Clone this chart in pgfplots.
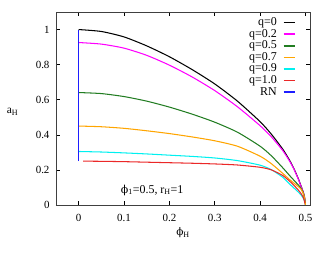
\documentclass[border=0pt]{standalone}
\usepackage{fontspec}
\setmainfont{Liberation Serif}
\newfontfamily\grk{DejaVu Serif}
\usepackage{pgfplots}
\pgfplotsset{compat=1.18}
\definecolor{cmag}{RGB}{255,0,255}
\definecolor{cgreen}{RGB}{34,125,34}
\definecolor{corange}{RGB}{255,165,0}
\definecolor{ccyan}{RGB}{0,240,240}
\definecolor{cred}{RGB}{235,40,40}
\definecolor{cblue}{RGB}{30,30,255}
\newcommand{\ph}{{\grk\fontsize{0.92em}{1em}\selectfont ϕ}}
\begin{document}
\begin{tikzpicture}
\useasboundingbox (-56bp,-49bp) rectangle (274bp,205bp);
\begin{axis}[
  scale only axis, width=254bp, height=193bp,
  xmin=-0.05, xmax=0.51, ymin=0, ymax=1.1,
  xtick={0,0.1,0.2,0.3,0.4,0.5},
  ytick={0,0.2,0.4,0.6,0.8,1},
  xticklabels={0,0.1,0.2,0.3,0.4,0.5},
  yticklabels={0,0.2,0.4,0.6,0.8,1},
  tick align=inside, major tick length=4bp,
  tick style={black, line width=0.5bp},
  axis line style={black!75, line width=0.6bp},
  every tick label/.append style={font=\fontsize{11}{13}\selectfont},
  yticklabel style={xshift=-3bp},
  xticklabel style={yshift=-6bp},
  xlabel={\ph\textsubscript{H}},
  ylabel={a\textsubscript{H}},
  label style={font=\fontsize{11.5}{13}\selectfont},
  xlabel style={at={(axis description cs:0.5,-0.145)}, anchor=center},
  ylabel style={at={(axis description cs:-0.171,0.482)}, anchor=center, rotate=-90},
  legend plot pos=right,
  legend cell align=right,
  legend style={draw=none, fill=none, at={(axis description cs:0.945,0.975)}, anchor=north east,
    inner sep=0pt, row sep=0.3bp, column sep=6bp,
    font=\fontsize{12}{13}\selectfont,
    nodes={inner sep=0pt, text height=8.5bp, text depth=2.8bp}},
  legend image code/.code={\draw[#1, line width=1.6bp] (0bp,0bp) -- (11.5bp,0bp);},
  every axis plot/.append style={line width=1.05bp, smooth, tension=0.4},
]
\addplot[black] coordinates {(0,1.000) (0.05,0.989) (0.1,0.958) (0.15,0.907) (0.2,0.845) (0.25,0.772) (0.3,0.690) (0.35,0.592) (0.4,0.475) (0.425,0.403) (0.45,0.318) (0.465,0.255) (0.475,0.205) (0.485,0.145) (0.49,0.110) (0.495,0.075) (0.498,0.045) (0.5,0.0)};
\addlegendentry{q=0}
\addplot[cmag] coordinates {(0,0.926) (0.05,0.917) (0.1,0.894) (0.15,0.853) (0.2,0.797) (0.25,0.730) (0.3,0.652) (0.35,0.560) (0.4,0.452) (0.425,0.388) (0.45,0.310) (0.465,0.250) (0.475,0.202) (0.485,0.143) (0.49,0.108) (0.495,0.073) (0.498,0.043) (0.5,0.0)};
\addlegendentry{q=0.2}
\addplot[cgreen] coordinates {(0,0.641) (0.05,0.635) (0.1,0.618) (0.15,0.592) (0.2,0.558) (0.25,0.518) (0.3,0.472) (0.35,0.415) (0.4,0.335) (0.425,0.280) (0.45,0.212) (0.465,0.168) (0.475,0.140) (0.485,0.112) (0.49,0.096) (0.495,0.070) (0.498,0.040) (0.5,0.0)};
\addlegendentry{q=0.5}
\addplot[corange] coordinates {(0,0.450) (0.05,0.446) (0.1,0.437) (0.15,0.423) (0.2,0.407) (0.25,0.388) (0.3,0.366) (0.35,0.335) (0.4,0.278) (0.425,0.235) (0.45,0.180) (0.465,0.145) (0.475,0.124) (0.485,0.103) (0.49,0.091) (0.495,0.067) (0.498,0.040) (0.5,0.0)};
\addlegendentry{q=0.7}
\addplot[ccyan] coordinates {(0,0.305) (0.05,0.302) (0.1,0.297) (0.15,0.291) (0.2,0.284) (0.25,0.277) (0.3,0.268) (0.35,0.253) (0.4,0.227) (0.425,0.201) (0.45,0.158) (0.465,0.120) (0.475,0.096) (0.485,0.072) (0.49,0.058) (0.495,0.040) (0.498,0.022)};
\addlegendentry{q=0.9}
\addplot[cred] coordinates {(0.01,0.250) (0.05,0.249) (0.1,0.247) (0.15,0.244) (0.2,0.241) (0.25,0.238) (0.3,0.234) (0.35,0.228) (0.4,0.215) (0.425,0.200) (0.45,0.168) (0.465,0.136) (0.475,0.111) (0.485,0.083) (0.49,0.066) (0.495,0.045) (0.499,0.010)};
\addlegendentry{q=1.0}
\addplot[cblue, line width=1.2bp, sharp plot] coordinates {(0,0.25) (0,1.0)};
\addlegendentry{RN}
\node[font=\fontsize{12}{13}\selectfont] at (axis cs:0.162,0.085) {\ph\textsubscript{1}=0.5, r\textsubscript{H}=1};
\end{axis}
\end{tikzpicture}
\end{document}
